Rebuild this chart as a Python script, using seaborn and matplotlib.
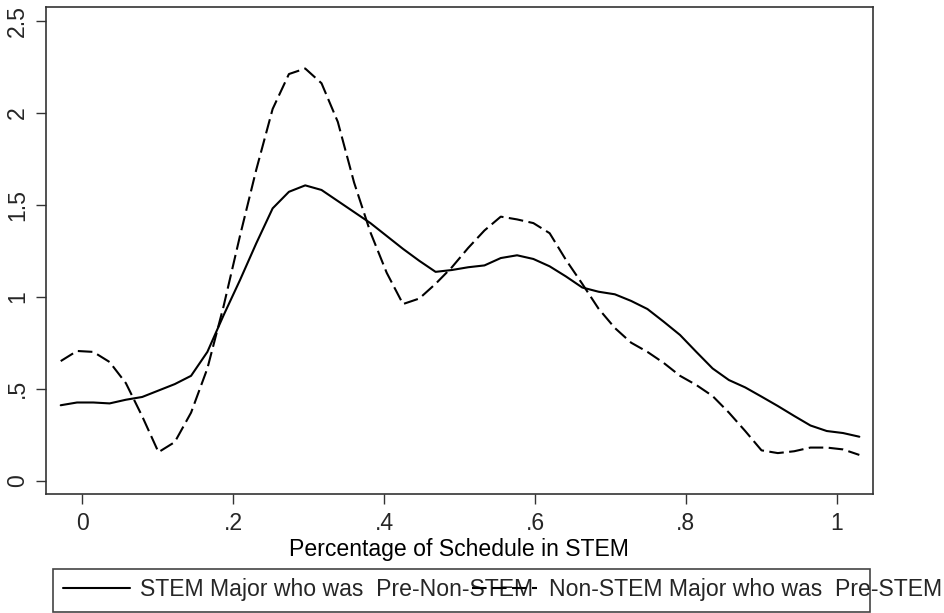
import matplotlib
matplotlib.use("Agg")
import matplotlib.pyplot as plt
import seaborn as sns
import pandas as pd
from matplotlib.patches import Rectangle

# ---- data ----
x_grid = [-0.0286, -0.0070, 0.0146, 0.0362, 0.0578, 0.0794, 0.1010, 0.1226, 0.1442, 0.1658,
          0.1874, 0.2090, 0.2306, 0.2523, 0.2739, 0.2955, 0.3171, 0.3387, 0.3603, 0.3819,
          0.4035, 0.4251, 0.4467, 0.4683, 0.4899, 0.5115, 0.5331, 0.5547, 0.5763, 0.5979,
          0.6195, 0.6411, 0.6627, 0.6843, 0.7059, 0.7275, 0.7491, 0.7707, 0.7923, 0.8139,
          0.8355, 0.8571, 0.8787, 0.9003, 0.9219, 0.9436, 0.9652, 0.9868, 1.0084, 1.0300]

stem_from_nonstem = [0.41, 0.425, 0.425, 0.42, 0.44, 0.455, 0.49, 0.525, 0.57, 0.70,
                     0.90, 1.09, 1.29, 1.48, 1.57, 1.605, 1.58, 1.52, 1.46, 1.40,
                     1.33, 1.26, 1.195, 1.135, 1.145, 1.16, 1.17, 1.21, 1.225, 1.205,
                     1.165, 1.11, 1.05, 1.027, 1.013, 0.977, 0.933, 0.864, 0.792, 0.70,
                     0.61, 0.547, 0.507, 0.457, 0.406, 0.352, 0.30, 0.27, 0.259, 0.239]

nonstem_from_stem = [0.65, 0.705, 0.70, 0.645, 0.53, 0.35, 0.155, 0.21, 0.37, 0.61,
                     0.95, 1.33, 1.69, 2.02, 2.21, 2.24, 2.16, 1.95, 1.62, 1.35,
                     1.13, 0.96, 0.99, 1.07, 1.16, 1.265, 1.36, 1.435, 1.42, 1.40,
                     1.345, 1.20, 1.07, 0.935, 0.83, 0.75, 0.70, 0.64, 0.57, 0.52,
                     0.46, 0.37, 0.27, 0.165, 0.15, 0.16, 0.18, 0.18, 0.17, 0.14]

label_a = "STEM Major who was  Pre-Non-STEM"
label_b = "Non-STEM Major who was  Pre-STEM"

y_ticks = [0, 0.5, 1, 1.5, 2, 2.5]
y_tick_labels = ["0", ".5", "1", "1.5", "2", "2.5"]
x_ticks = [0, 0.2, 0.4, 0.6, 0.8, 1.0]
x_tick_labels = ["0", ".2", ".4", ".6", ".8", "1"]
x_title = "Percentage of Schedule in STEM"

# ---- style ----
sns.set_theme(style="white")
plt.rcParams["font.family"] = ["Liberation Sans", "DejaVu Sans"]
FS = 16.6

W, H = 945, 613
fig = plt.figure(figsize=(W / 100, H / 100), dpi=100)
ax = fig.add_axes([46 / W, 1 - 494 / H, (872.7 - 46) / W, (494 - 6.7) / H])

df_a = pd.DataFrame({"x": x_grid, "y": stem_from_nonstem})
df_b = pd.DataFrame({"x": x_grid, "y": nonstem_from_stem})

sns.lineplot(data=df_a, x="x", y="y", ax=ax, color="black", linewidth=1.5,
             label=label_a, legend=False)
sns.lineplot(data=df_b, x="x", y="y", ax=ax, color="black", linewidth=1.5,
             label=label_b, legend=False, dashes=False)
lines = ax.get_lines()
lines[1].set_dashes([7, 2.6])

ax.set_xlim(-0.0481, 1.0477)
ax.set_ylim(-0.0723, 2.576)
ax.set_xticks(x_ticks)
ax.set_xticklabels(x_tick_labels, fontsize=FS)
ax.set_yticks(y_ticks)
ax.set_yticklabels(y_tick_labels, fontsize=FS, rotation=90, va="center")
ax.tick_params(axis="x", which="major", direction="out", length=7, width=1,
               color="#333333", pad=6, bottom=True)
ax.tick_params(axis="y", which="major", direction="out", length=7, width=1,
               color="#333333", pad=5, left=True)
ax.set_xlabel(x_title, fontsize=FS, labelpad=2, color="black")
ax.set_ylabel("")
for s in ax.spines.values():
    s.set_visible(True)
    s.set_color("#333333")
    s.set_linewidth(1.2)

# ---- legend (two keys, overlapping as in the reference) ----
ly = 1 - 589.3 / H
leg1 = fig.legend([lines[0]], [label_a], loc="center left",
                  bbox_to_anchor=(62.7 / W, ly), frameon=False, borderpad=0,
                  borderaxespad=0, handlelength=2.9, handletextpad=0.45,
                  fontsize=FS)
leg2 = fig.legend([lines[1]], [label_b], loc="center left",
                  bbox_to_anchor=(471.7 / W, ly), frameon=False, borderpad=0,
                  borderaxespad=0, handlelength=2.85, handletextpad=0.52,
                  fontsize=FS)
fig.add_artist(Rectangle((53.3 / W, 1 - 611.7 / H), (870 - 53.3) / W, (611.7 - 569) / H,
                         transform=fig.transFigure, fill=False,
                         edgecolor="#444444", linewidth=1.2))

fig.savefig("out.png", dpi=100)
